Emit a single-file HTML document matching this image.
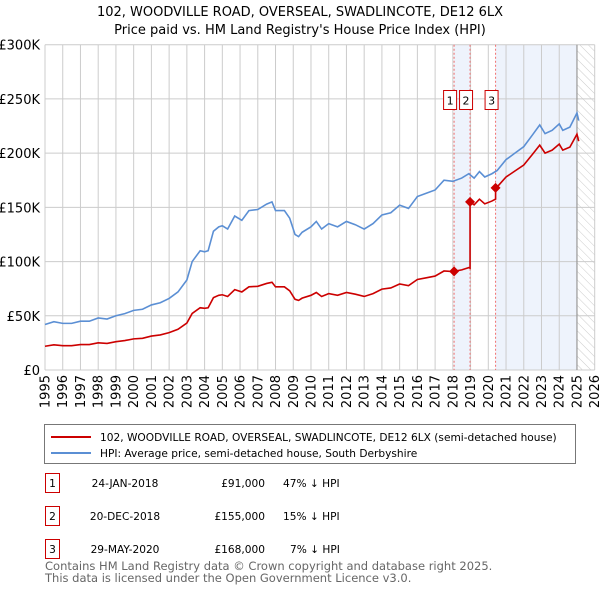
<!DOCTYPE html>
<html><head><meta charset="utf-8"><style>
body{margin:0;background:#fff;font-family:"Liberation Sans","DejaVu Sans",sans-serif;}
svg text{font-family:"DejaVu Sans","Liberation Sans",sans-serif;}
</style></head><body>
<svg id="chart" width="600" height="590" xmlns="http://www.w3.org/2000/svg">
<defs><pattern id="hatch" patternUnits="userSpaceOnUse" width="6" height="6" patternTransform="rotate(-45)"><line x1="0" y1="0" x2="0" y2="6" stroke="#ccc" stroke-width="1"/></pattern></defs>
<text x="300" y="16" text-anchor="middle" font-size="13">102, WOODVILLE ROAD, OVERSEAL, SWADLINCOTE, DE12 6LX</text>
<text x="300" y="34" text-anchor="middle" font-size="13">Price paid vs. HM Land Registry's House Price Index (HPI)</text>
<g id="plot"></g>
<rect x="44.5" y="424.5" width="531" height="39" fill="#fff" stroke="#777"/>
<line x1="51" y1="437" x2="91" y2="437" stroke="#cc0000" stroke-width="2"/>
<text x="100" y="441" font-size="10.6">102, WOODVILLE ROAD, OVERSEAL, SWADLINCOTE, DE12 6LX (semi-detached house)</text>
<line x1="51" y1="453" x2="91" y2="453" stroke="#5b8fd4" stroke-width="2"/>
<text x="100" y="457" font-size="10.6">HPI: Average price, semi-detached house, South Derbyshire</text>
<g font-size="10.6">
<rect x="45.5" y="473.5" width="14" height="19" fill="#fff" stroke="#cc0000"/><text x="52.5" y="487" text-anchor="middle">1</text>
<text x="125" y="487" text-anchor="middle">24-JAN-2018</text><text x="265" y="487" text-anchor="end">£91,000</text><text x="283" y="487">47% ↓ HPI</text>
<rect x="45.5" y="506.5" width="14" height="19" fill="#fff" stroke="#cc0000"/><text x="52.5" y="520" text-anchor="middle">2</text>
<text x="125" y="520" text-anchor="middle">20-DEC-2018</text><text x="265" y="520" text-anchor="end">£155,000</text><text x="283" y="520">15% ↓ HPI</text>
<rect x="45.5" y="539.5" width="14" height="19" fill="#fff" stroke="#cc0000"/><text x="52.5" y="553" text-anchor="middle">3</text>
<text x="125" y="553" text-anchor="middle">29-MAY-2020</text><text x="265" y="553" text-anchor="end">£168,000</text><text x="290" y="553">7% ↓ HPI</text>
</g>
<text x="45" y="570" font-size="11.5" fill="#666">Contains HM Land Registry data © Crown copyright and database right 2025.</text>
<text x="45" y="582" font-size="11.5" fill="#666">This data is licensed under the Open Government Licence v3.0.</text>
</svg>
<script>
const hpiDates=[1995.0,1995.5,1996,1996.5,1997,1997.5,1998,1998.5,1999,1999.5,2000,2000.5,2001,2001.5,2002,2002.5,2003,2003.3,2003.75,2004,2004.2,2004.5,2004.8,2005,2005.3,2005.7,2006.1,2006.5,2007,2007.5,2007.8,2008,2008.5,2008.8,2009.1,2009.3,2009.5,2010,2010.3,2010.6,2011,2011.5,2012,2012.5,2013,2013.5,2014,2014.5,2015,2015.5,2016,2016.5,2017,2017.5,2018,2018.5,2018.9,2019.2,2019.5,2019.8,2020.2,2020.5,2021,2021.5,2022,2022.5,2022.9,2023.2,2023.6,2024,2024.2,2024.6,2025,2025.1];
const hpiValues=[42,44.5,43,43,45,45,48,47,50,52,55,56,60,62,66,72,83,100,110,109,110,128,132,133,130,142,138,147,148,153,155,147,147,140,125,123,127,132,137,130,135,132,137,134,130,135,143,145,152,149,160,163,166,175,174,177,181,177,183,178,181,184,194,200,206,217,226,218,221,227,221,224,237,230];
const saleDates=[2018.07,2018.97,2020.41];
const salePrices=[91,155,168];
const saleLabels=["1","2","3"];
const yTicks=[0,50,100,150,200,250,300];
const yTickLabels=["£0","£50K","£100K","£150K","£200K","£250K","£300K"];
const xYears=[];for(let y=1995;y<=2026;y++)xYears.push(y);

const X0=45,X1=594.7,Y0=370,Y1=44.7;
const x=v=>X0+(v-1995)/31*(X1-X0);
const y=v=>Y0-v/300*(Y0-Y1);
const NS="http://www.w3.org/2000/svg";
const plot=document.getElementById('plot');
function mk(tag,attrs,parent){const e=document.createElementNS(NS,tag);for(const k in attrs)e.setAttribute(k,attrs[k]);(parent||plot).appendChild(e);return e;}
function hpiAt(t){for(let i=0;i<hpiDates.length-1;i++){if(t>=hpiDates[i]&&t<=hpiDates[i+1]){const f=(t-hpiDates[i])/(hpiDates[i+1]-hpiDates[i]);return hpiValues[i]+f*(hpiValues[i+1]-hpiValues[i]);}}return hpiValues[hpiValues.length-1];}

let r=mk('rect',{x:x(saleDates[0]),y:Y1,width:x(saleDates[1])-x(saleDates[0]),height:Y0-Y1,fill:'#eef3fc'});


r=mk('rect',{x:x(saleDates[2]),y:Y1,width:x(2025)-x(saleDates[2]),height:Y0-Y1,fill:'#eef3fc'});


r=mk('rect',{x:x(2025),y:Y1,width:X1-x(2025),height:Y0-Y1,fill:'url(#hatch)'});



xYears.forEach(yr=>{const l=mk('line',{x1:x(yr),x2:x(yr),y1:Y1,y2:Y0,stroke:'#ccc','stroke-width':1});


const t=mk('text',{x:0,y:0,'font-size':13,'text-anchor':'end',transform:`translate(${x(yr)+4.5},375) rotate(-90)`});t.textContent=yr;

});
yTicks.forEach((v,i)=>{const l=mk('line',{x1:X0,x2:X1,y1:y(v),y2:y(v),stroke:'#ccc','stroke-width':1});


const t=mk('text',{x:40,y:y(v)+5,'font-size':13,'text-anchor':'end'});t.textContent=yTickLabels[i];

});
const dv=mk('line',{x1:x(2025),x2:x(2025),y1:Y1,y2:Y0,stroke:'#999','stroke-width':1.2});



saleDates.forEach(d=>{const l=mk('line',{x1:x(d),x2:x(d),y1:Y1,y2:Y0,stroke:'#f07070','stroke-width':1,'stroke-dasharray':'2,2'});

});

const hp=mk('polyline',{points:hpiDates.map((d,i)=>x(d)+','+y(hpiValues[i])).join(' '),fill:'none',stroke:'#5b8fd4','stroke-width':1.6});



const ratios=saleDates.map((d,i)=>salePrices[i]/hpiAt(d));
const pts=[];
hpiDates.forEach(d=>{
  saleDates.forEach((sd,i)=>{if(sd<=d&&!pts.some(p=>p.sale===i)){if(i>0)pts.push({t:sd,v:ratios[i-1]*hpiAt(sd)});pts.push({t:sd,v:salePrices[i],sale:i});}});
  let k=-1;saleDates.forEach((sd,i)=>{if(d>=sd)k=i;});
  const ratio=ratios[Math.max(k,0)];
  pts.push({t:d,v:ratio*hpiAt(d)});
});
pts.sort((a,b)=>a.t-b.t);
const pl=mk('polyline',{points:pts.map(p=>x(p.t)+','+y(p.v)).join(' '),fill:'none',stroke:'#cc0000','stroke-width':1.6});



saleDates.forEach((d,i)=>{const cx=x(d),cy=y(salePrices[i]);
const m=mk('polygon',{points:`${cx},${cy-5} ${cx+5},${cy} ${cx},${cy+5} ${cx-5},${cy}`,fill:'#cc0000'});


const b=mk('rect',{x:cx-4-6.5,y:90.5,width:13,height:19,fill:'#fff',stroke:'#cc0000'});


const t=mk('text',{x:cx-4,y:104.5,'font-size':11,'text-anchor':'middle'});t.textContent=saleLabels[i];

});
</script>
</body></html>
